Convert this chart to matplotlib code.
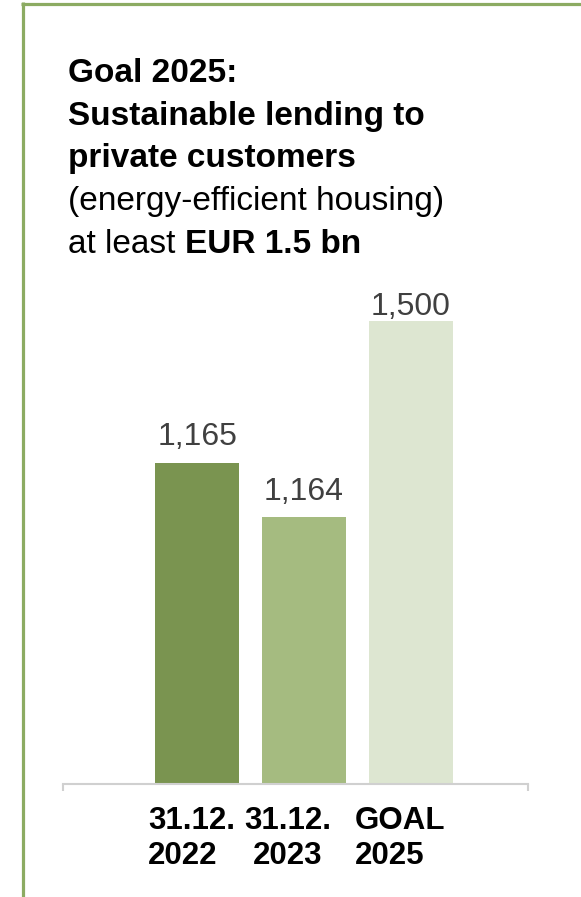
import matplotlib
matplotlib.use("Agg")
import matplotlib.pyplot as plt
from matplotlib.lines import Line2D
import matplotlib.transforms as mtrans

plt.rcParams['font.family'] = ['Liberation Sans', 'DejaVu Sans']

# ---- data ----
categories = ["31.12.\n2022", "31.12.\n2023", "GOAL\n2025"]
values = [1165, 1164, 1500]            # labelled values (EUR m)
value_labels = ["1,165", "1,164", "1,500"]
bar_heights = [1040, 865, 1500]       # drawn heights
bar_colors = ["#7a9450", "#a5bb80", "#dde6d1"]
label_gap_px = [18, 17, 6]
tick_align = ["left", "center", "left"]
tick_shift_px = [-6, -16, -10]

W, H = 581, 897
fig = plt.figure(figsize=(W / 100, H / 100), dpi=100)

def fx(px):
    return px / W

def fy(py):
    return 1 - py / H

# green frame
border = "#8cab62"
fig.add_artist(Line2D([fx(22.5), fx(22.5)], [fy(2), fy(897)], color=border, lw=2.3,
                      transform=fig.transFigure, solid_capstyle='butt'))
fig.add_artist(Line2D([fx(21), fx(581)], [fy(4.5), fy(4.5)], color=border, lw=2.3,
                      transform=fig.transFigure, solid_capstyle='butt'))

# title block
tx = fx(68)
fs_title = 24
fig.text(tx, fy(82), "Goal 2025:", fontsize=fs_title, fontweight='bold', va='baseline', ha='left')
fig.text(tx, fy(124.5), "Sustainable lending to", fontsize=fs_title, fontweight='bold', va='baseline', ha='left')
fig.text(tx, fy(167), "private customers", fontsize=fs_title, fontweight='bold', va='baseline', ha='left')
fig.text(tx, fy(210), "(energy-efficient housing)", fontsize=fs_title, va='baseline', ha='left')
t1 = fig.text(tx, fy(253), "at least ", fontsize=fs_title, va='baseline', ha='left')
fig.canvas.draw()
r = fig.canvas.get_renderer()
bb = t1.get_window_extent(r)
fig.text(bb.x1 / W, fy(253), "EUR 1.5 bn", fontsize=fs_title, fontweight='bold', va='baseline', ha='left')

# axes
unit = 106.5
bar_w_px = 84
c2 = 304
left_px, right_px = 63, 528
xl = 1 - (c2 - left_px) / unit
xr = 1 + (right_px - c2) / unit
base_px = 784
ytop = 1600
ax_h_px = 463 * ytop / 1500
ax = fig.add_axes([fx(left_px), fy(base_px), (right_px - left_px) / W, ax_h_px / H])
x = list(range(len(categories)))
ax.bar(x, bar_heights, width=bar_w_px / unit, color=bar_colors)
ax.set_xlim(xl, xr)
ax.set_ylim(0, ytop)

for xi, h, lab, g in zip(x, bar_heights, value_labels, label_gap_px):
    ax.annotate(lab, (xi, h), xytext=(0, g), textcoords='offset pixels',
                ha='center', va='baseline', fontsize=23, color='#404040')

for s in ['top', 'right', 'left']:
    ax.spines[s].set_visible(False)
ax.spines['bottom'].set_color('#d0d0d0')
ax.spines['bottom'].set_linewidth(1.5)
ax.set_yticks([])
ax.set_xticks(x)
ax.set_xticklabels(categories, fontsize=22.5, fontweight='bold', color='black',
                   linespacing=1.22)
ax.tick_params(axis='x', which='major', length=0, pad=16)
ax.set_xticks([xl, xr], minor=True)
ax.tick_params(axis='x', which='minor', length=5, width=1.5, color='#d0d0d0', direction='out')

for lbl, al, sh in zip(ax.get_xticklabels(), tick_align, tick_shift_px):
    lbl.set_multialignment(al)
    offset = mtrans.ScaledTranslation(sh / 100, 0, fig.dpi_scale_trans)
    lbl.set_transform(lbl.get_transform() + offset)

fig.savefig("out.png", dpi=100)
